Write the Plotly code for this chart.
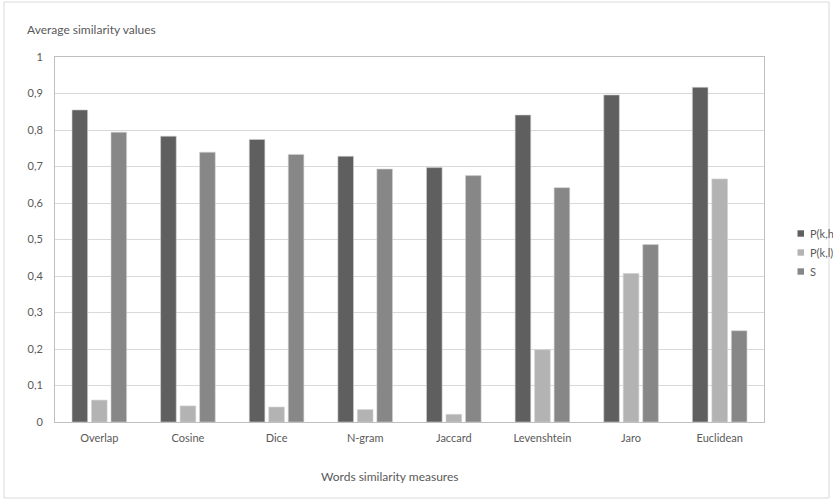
import plotly.graph_objects as go

# Similarity measures compared
measures = ["Overlap", "Cosine", "Dice", "N-gram", "Jaccard", "Levenshtein", "Jaro", "Euclidean"]

# Average similarity values per series
p_kh = [0.855, 0.783, 0.774, 0.728, 0.697, 0.841, 0.896, 0.917]
p_kl = [0.060, 0.044, 0.041, 0.034, 0.021, 0.198, 0.407, 0.666]
s_val = [0.794, 0.739, 0.733, 0.693, 0.675, 0.642, 0.486, 0.250]

series_names = ["P(k,h", "P(k,l)", "S"]
series_colors = ["#5f5f5f", "#b3b3b3", "#878787"]

FONT = "Lato, 'Open Sans', sans-serif"
TEXT = "#595959"

fig = go.Figure()
for name, vals, col in zip(series_names, [p_kh, p_kl, s_val], series_colors):
    fig.add_trace(go.Bar(
        x=measures, y=vals, name=name,
        marker=dict(color=col, line=dict(color="#d0d0d0", width=0.6)),
    ))

W, H = 833, 501
L, R, T, B = 55, 69, 57, 79
pw, ph = W - L - R, H - T - B

def px_x(p):
    return (p - L) / pw

def px_y(p):
    return (H - B - p) / ph

shapes = [dict(
    type="rect", xref="paper", yref="paper",
    x0=px_x(4), x1=px_x(829), y0=px_y(498), y1=px_y(2),
    line=dict(color="#d9d9d9", width=1), fillcolor="rgba(0,0,0,0)",
    layer="below",
)]
annotations = [
    dict(text="Average similarity values", xref="paper", yref="paper",
         x=px_x(25), y=px_y(30), xanchor="left", yanchor="middle",
         showarrow=False, font=dict(family=FONT, size=12, color=TEXT)),
    dict(text="Words similarity measures", xref="paper", yref="paper",
         x=px_x(390), y=px_y(476), xanchor="center", yanchor="middle",
         showarrow=False, font=dict(family=FONT, size=12, color=TEXT)),
]

# Legend on the right: small square swatches with series labels
for i, (name, col) in enumerate(zip(series_names, series_colors)):
    cy = 233.5 + i * 19
    shapes.append(dict(
        type="rect", xref="paper", yref="paper",
        x0=px_x(797.5), x1=px_x(804), y0=px_y(cy + 3.2), y1=px_y(cy - 3.2),
        line=dict(width=0), fillcolor=col,
    ))
    annotations.append(dict(
        text=name, xref="paper", yref="paper",
        x=px_x(807.5), y=px_y(cy), xanchor="left", yanchor="middle",
        showarrow=False, font=dict(family=FONT, size=11, color=TEXT),
    ))

fig.update_layout(
    width=W, height=H,
    margin=dict(l=L, r=R, t=T, b=B),
    paper_bgcolor="white", plot_bgcolor="white",
    separators=", ",
    barmode="group", bargap=0.34, bargroupgap=0.2,
    font=dict(family=FONT, size=11, color=TEXT),
    showlegend=False,
    xaxis=dict(
        showgrid=False, showline=True, linecolor="#bfbfbf", linewidth=1,
        mirror=True, ticks="", ticklabelstandoff=6,
        tickfont=dict(family=FONT, size=11, color=TEXT),
    ),
    yaxis=dict(
        range=[0, 1], dtick=0.1, tick0=0,
        showgrid=True, gridcolor="#d9d9d9", gridwidth=1,
        showline=True, linecolor="#bfbfbf", linewidth=1, mirror=True,
        zeroline=False, ticks="", ticklabelstandoff=9,
        tickfont=dict(family=FONT, size=11, color=TEXT),
    ),
    shapes=shapes,
    annotations=annotations,
)

fig.write_html("out.html")
